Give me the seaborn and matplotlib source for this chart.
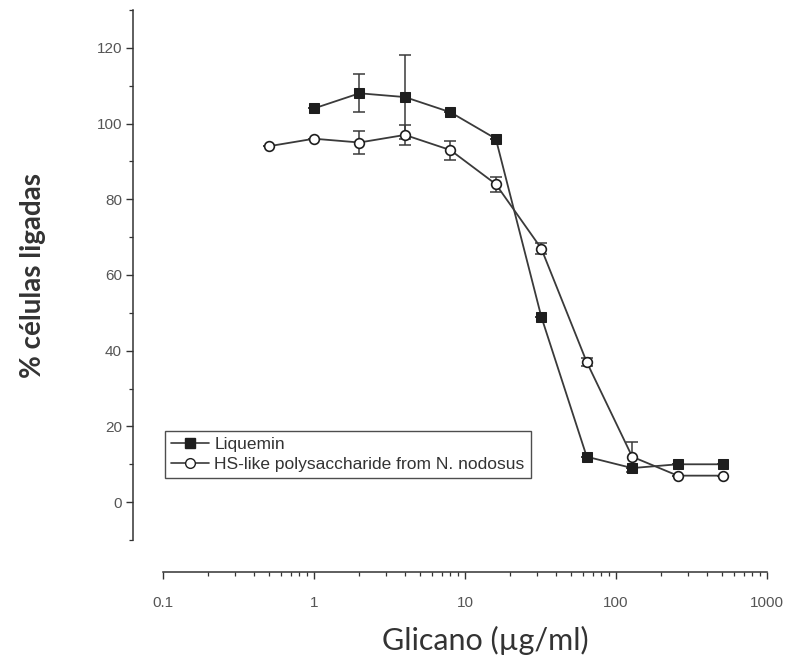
import numpy as np
import pandas as pd
import matplotlib
matplotlib.use("Agg")
import matplotlib.pyplot as plt
import seaborn as sns
from matplotlib.ticker import LogLocator, FixedLocator, NullFormatter, FixedFormatter

# Glycan concentrations (µg/ml) and % of bound cells
liq_x = [1, 2, 4, 8, 16, 32, 64, 128, 256, 512]
liq_y = [104, 108, 107, 103, 96, 49, 12, 9, 10, 10]
liq_err = [0, 5, 11, 0, 0, 0, 0, 0, 0, 0]

hs_x = [0.5, 1, 2, 4, 8, 16, 32, 64, 128, 256, 512]
hs_y = [94, 96, 95, 97, 93, 84, 67, 37, 12, 7, 7]
hs_err = [0, 0, 3, 2.7, 2.5, 2, 1.5, 1, 4, 0, 0]

series_names = ["Liquemin", "HS-like polysaccharide from N. nodosus"]
x_ticks = [0.1, 1, 10, 100, 1000]
x_ticklabels = ["0.1", "1", "10", "100", "1000"]
y_ticks = [0, 20, 40, 60, 80, 100, 120]

sns.set_theme(style="ticks")
plt.rcParams["font.family"] = ["Liberation Sans", "DejaVu Sans"]

df = pd.concat([
    pd.DataFrame({"x": liq_x, "y": liq_y, "serie": series_names[0]}),
    pd.DataFrame({"x": hs_x, "y": hs_y, "serie": series_names[1]}),
])

fig = plt.figure(figsize=(7.93, 6.66), dpi=100)
ax = fig.add_axes([163 / 793, 1 - 540 / 666, 604 / 793, 530 / 666])

line_col = "#3a3a3a"
# error bars first so markers sit on top
ax.errorbar(liq_x, liq_y, yerr=liq_err, fmt="none", ecolor=line_col,
            elinewidth=1.1, capsize=4, capthick=1.1, zorder=2)
ax.errorbar(hs_x, hs_y, yerr=hs_err, fmt="none", ecolor=line_col,
            elinewidth=1.1, capsize=4, capthick=1.1, zorder=2)

sns.lineplot(data=df, x="x", y="y", hue="serie", style="serie",
             markers={series_names[0]: "s", series_names[1]: "o"},
             dashes=False, palette={series_names[0]: line_col, series_names[1]: line_col},
             ax=ax, linewidth=1.3, markersize=7, legend=False, zorder=3)

# marker styling: filled squares, hollow circles
for ln in ax.get_lines():
    if ln.get_marker() == "s":
        ln.set_markerfacecolor("#1e1e1e")
        ln.set_markeredgecolor("#1e1e1e")
    elif ln.get_marker() == "o":
        ln.set_markerfacecolor("white")
        ln.set_markeredgecolor("#1e1e1e")
        ln.set_markeredgewidth(1.2)

ax.set_xscale("log")
ax.set_xlim(0.1, 1000)
ax.set_ylim(-10, 130)

ax.xaxis.set_major_locator(FixedLocator(x_ticks))
ax.xaxis.set_major_formatter(FixedFormatter(x_ticklabels))
ax.xaxis.set_minor_locator(LogLocator(base=10, subs=np.arange(2, 10)))
ax.xaxis.set_minor_formatter(NullFormatter())
ax.yaxis.set_major_locator(FixedLocator(y_ticks))
ax.yaxis.set_minor_locator(FixedLocator(np.arange(-10, 131, 20)))

ax.tick_params(axis="both", which="major", direction="out", length=5, width=1,
               color="#333333", labelsize=11, labelcolor="#555555", pad=3)
ax.tick_params(axis="x", which="major", pad=12)
ax.tick_params(axis="both", which="minor", direction="out", length=3, width=0.9,
               color="#333333")

sns.despine(ax=ax)
ax.spines["left"].set_position(("outward", 21.6))
ax.spines["bottom"].set_position(("outward", 23))
for s in ("left", "bottom"):
    ax.spines[s].set_linewidth(1.1)
    ax.spines[s].set_color("#333333")

ax.set_xlabel("Glicano (µg/ml)", fontsize=22, family=["Lato", "DejaVu Sans"],
              color="#333333", labelpad=12)
ax.xaxis.label.set_x(0.533)
ax.set_ylabel("% células ligadas", fontsize=20, fontweight="bold",
              family=["Lato", "DejaVu Sans"], color="#333333", labelpad=36)

handles = [
    plt.Line2D([], [], color=line_col, lw=1.2, marker="s", markersize=6.5,
               markerfacecolor="#1e1e1e", markeredgecolor="#1e1e1e"),
    plt.Line2D([], [], color=line_col, lw=1.2, marker="o", markersize=7,
               markerfacecolor="white", markeredgecolor="#1e1e1e"),
]
leg = ax.legend(handles, series_names, loc="lower left",
                bbox_to_anchor=(0.003, 0.117), borderaxespad=0,
                frameon=True, fancybox=False, fontsize=12.5, handlelength=2.2,
                handletextpad=0.3, borderpad=0.35, labelspacing=0.25)
leg.get_frame().set_edgecolor("#222222")
leg.get_frame().set_linewidth(1.0)
for t in leg.get_texts():
    t.set_color("#333333")

fig.savefig("out.png", dpi=100, facecolor="white")
